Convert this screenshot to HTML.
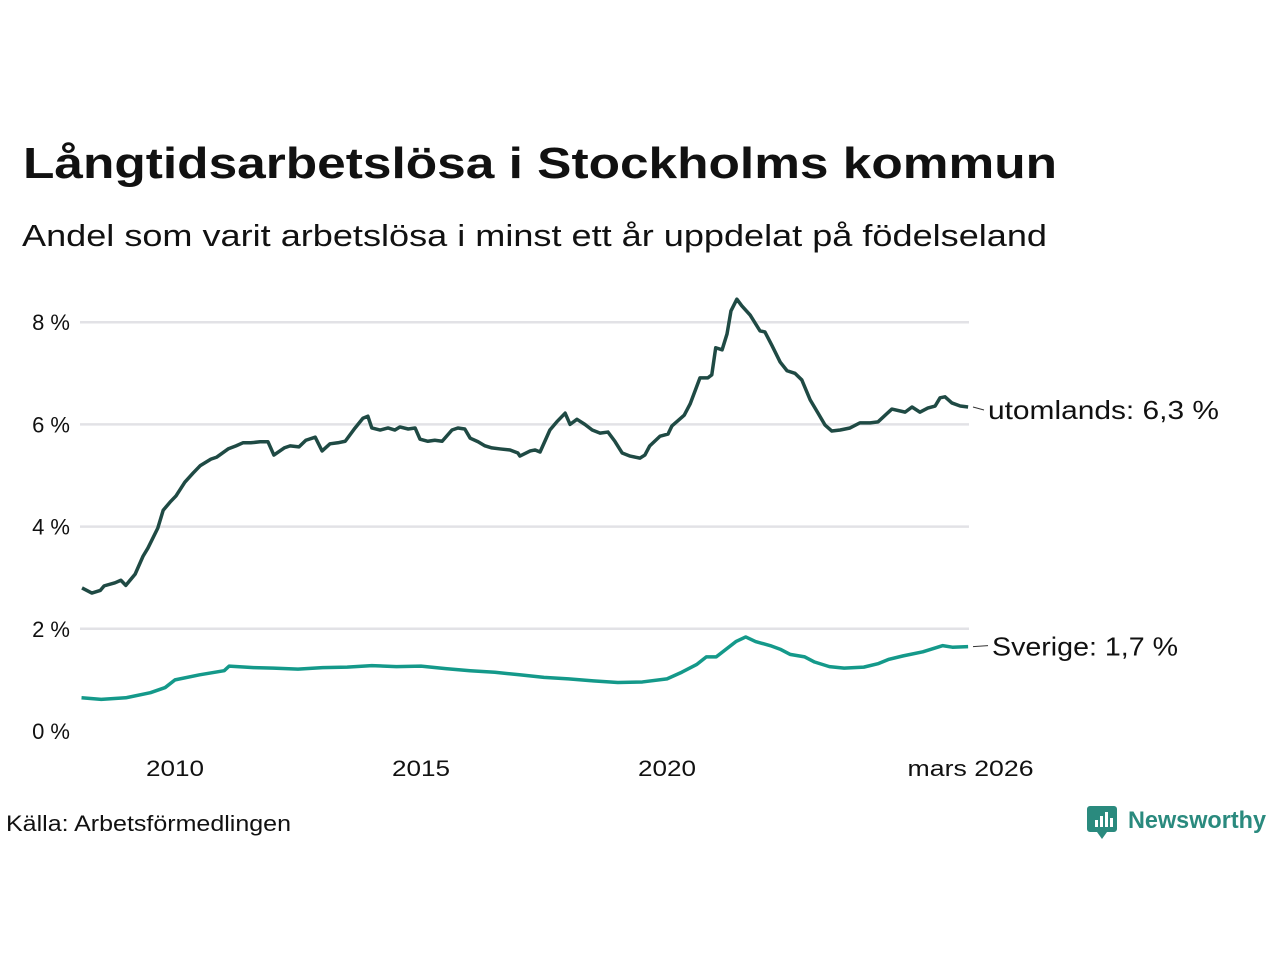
<!DOCTYPE html>
<html><head><meta charset="utf-8"><style>
body{margin:0;background:#fff;width:1280px;height:960px;overflow:hidden}
text{font-family:"Liberation Sans",sans-serif}
</style></head><body>
<svg id="chart" width="1280" height="960" viewBox="0 0 1280 960" xmlns="http://www.w3.org/2000/svg">
<text x="23" y="178" font-size="44" font-weight="bold" fill="#111" textLength="1034" lengthAdjust="spacingAndGlyphs">Långtidsarbetslösa i Stockholms kommun</text>
<text x="22" y="246" font-size="31" fill="#111" textLength="1025" lengthAdjust="spacingAndGlyphs">Andel som varit arbetslösa i minst ett år uppdelat på födelseland</text>
<g id="grid"></g>
<g id="yticks"></g>
<g id="xticks"></g>
<g id="lines"></g>
<text x="6" y="831" font-size="22" fill="#111" textLength="285" lengthAdjust="spacingAndGlyphs">Källa: Arbetsförmedlingen</text>
<g>
<path d="M1090 806 h24 a3 3 0 0 1 3 3 v20 a3 3 0 0 1 -3 3 h-7 l-5 7 l-5 -7 h-7 a3 3 0 0 1 -3 -3 v-20 a3 3 0 0 1 3 -3z" fill="#2a8a7e"/>
<rect x="1095" y="820" width="3" height="7" fill="#fff"/><rect x="1100" y="816" width="3" height="11" fill="#fff"/><rect x="1105" y="812" width="3" height="15" fill="#fff"/><rect x="1110" y="818" width="3" height="9" fill="#fff"/>
<text x="1128" y="828" font-size="24" font-weight="bold" fill="#2a8a7e" textLength="138" lengthAdjust="spacingAndGlyphs">Newsworthy</text>
</g>
</svg>
<script>
const yTicks=[0,2,4,6,8];
const yTickLabels=["0 %","2 %","4 %","6 %","8 %"];
const xTicks=[2010,2015,2020,2026.17];
const xTickLabels=["2010","2015","2020","mars 2026"];
const utlDates=[2008.11,2008.31,2008.48,2008.56,2008.78,2008.90,2009.00,2009.19,2009.35,2009.45,2009.65,2009.76,2009.90,2010.02,2010.20,2010.37,2010.51,2010.73,2010.85,2011.08,2011.24,2011.38,2011.54,2011.73,2011.89,2012.01,2012.22,2012.34,2012.52,2012.66,2012.85,2012.99,2013.15,2013.31,2013.46,2013.66,2013.82,2013.92,2014.00,2014.17,2014.33,2014.47,2014.57,2014.74,2014.88,2014.98,2015.14,2015.28,2015.43,2015.63,2015.75,2015.89,2016.00,2016.16,2016.30,2016.44,2016.61,2016.81,2016.97,2017.01,2017.22,2017.32,2017.42,2017.62,2017.76,2017.93,2018.03,2018.17,2018.33,2018.48,2018.64,2018.80,2018.94,2019.09,2019.25,2019.45,2019.55,2019.65,2019.86,2020.02,2020.10,2020.35,2020.47,2020.67,2020.83,2020.91,2020.99,2021.12,2021.22,2021.30,2021.42,2021.52,2021.69,2021.89,2021.99,2022.13,2022.30,2022.44,2022.60,2022.74,2022.91,2023.07,2023.21,2023.35,2023.52,2023.72,2023.92,2024.13,2024.29,2024.57,2024.84,2024.98,2025.14,2025.30,2025.45,2025.55,2025.65,2025.79,2025.96,2026.12];
const utlValues=[2.80,2.70,2.75,2.84,2.90,2.95,2.85,3.07,3.42,3.58,3.97,4.32,4.48,4.60,4.87,5.05,5.19,5.32,5.36,5.52,5.58,5.64,5.64,5.66,5.66,5.40,5.54,5.58,5.56,5.69,5.75,5.48,5.62,5.64,5.67,5.93,6.12,6.16,5.93,5.89,5.93,5.89,5.95,5.91,5.93,5.71,5.67,5.69,5.67,5.89,5.93,5.91,5.73,5.66,5.58,5.54,5.52,5.50,5.44,5.38,5.48,5.50,5.46,5.89,6.05,6.22,6.00,6.10,6.00,5.89,5.83,5.85,5.67,5.44,5.38,5.34,5.40,5.58,5.77,5.81,5.97,6.18,6.40,6.91,6.91,6.97,7.50,7.46,7.77,8.22,8.45,8.32,8.14,7.83,7.81,7.55,7.22,7.05,7.00,6.87,6.48,6.22,5.99,5.87,5.89,5.93,6.03,6.03,6.05,6.30,6.24,6.34,6.24,6.32,6.36,6.52,6.54,6.42,6.36,6.34];
const sveDates=[2008.1,2008.5,2009.0,2009.5,2009.8,2010.0,2010.5,2011.0,2011.1,2011.6,2012.0,2012.5,2013.0,2013.5,2014.0,2014.5,2015.0,2015.5,2016.0,2016.5,2017.0,2017.5,2018.0,2018.5,2019.0,2019.5,2020.0,2020.3,2020.6,2020.8,2021.0,2021.2,2021.4,2021.6,2021.8,2022.1,2022.3,2022.5,2022.8,2023.0,2023.3,2023.6,2024.0,2024.3,2024.5,2024.8,2025.2,2025.6,2025.8,2026.12];
const sveValues=[0.65,0.62,0.65,0.75,0.85,1.00,1.10,1.18,1.27,1.24,1.23,1.21,1.24,1.25,1.28,1.26,1.27,1.22,1.18,1.15,1.10,1.05,1.02,0.98,0.95,0.96,1.02,1.15,1.30,1.45,1.45,1.60,1.75,1.84,1.75,1.67,1.60,1.50,1.45,1.35,1.26,1.23,1.25,1.32,1.40,1.47,1.55,1.67,1.64,1.65];
const seriesLabels=["utomlands: 6,3 %","Sverige: 1,7 %"];

const NS="http://www.w3.org/2000/svg";
const X=t=>175+(t-2010)*49.2;
const Y=v=>731-v*51.1;
function mk(tag,parent,attrs){const e=document.createElementNS(NS,tag);for(const k in attrs)e.setAttribute(k,attrs[k]);document.getElementById(parent).appendChild(e);return e;}
yTicks.forEach((v,i)=>{
  if(v>0){const g=mk('line','grid',{x1:80,x2:969,y1:Y(v),y2:Y(v),stroke:'#e2e2e6','stroke-width':2.5});
  
  }
  const t=mk('text','yticks',{x:70,y:Y(v)+8,'font-size':22,fill:'#111','text-anchor':'end'});
  
  
  t.textContent=yTickLabels[i];
});
xTicks.forEach((v,i)=>{
  const lbl=xTickLabels[i];
  const t=mk('text','xticks',{x:X(v),y:776,'font-size':22,fill:'#111','text-anchor':'middle',textLength:lbl.length>4?126:58,lengthAdjust:'spacingAndGlyphs'});
  
  
  t.textContent=lbl;
});
function line(d,v,color,name){
  const p=mk('polyline','lines',{points:d.map((t,i)=>X(t)+','+Y(v[i])).join(' '),fill:'none',stroke:color,'stroke-width':3.5,'stroke-linejoin':'round'});
  
  
}
line(sveDates,sveValues,'#14998a','line-sverige');
line(utlDates,utlValues,'#1f4a44','line-utomlands');
const lu=utlValues[utlValues.length-1], ls=sveValues[sveValues.length-1];
const c1=mk('line','lines',{x1:973,x2:984,y1:Y(lu),y2:Y(lu)+3,stroke:'#333','stroke-width':1});


const c2=mk('line','lines',{x1:973,x2:988,y1:Y(ls),y2:Y(ls)-1,stroke:'#333','stroke-width':1});


const l1=mk('text','lines',{x:988,y:Y(lu)+12,'font-size':26,fill:'#111',textLength:231,lengthAdjust:'spacingAndGlyphs'});


l1.textContent=seriesLabels[0];
const l2=mk('text','lines',{x:992,y:Y(ls)+9,'font-size':26,fill:'#111',textLength:186,lengthAdjust:'spacingAndGlyphs'});


l2.textContent=seriesLabels[1];
</script>
</body></html>
